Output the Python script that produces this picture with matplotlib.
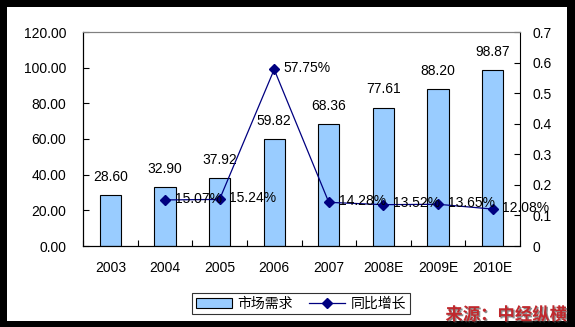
import numpy as np
import matplotlib
matplotlib.use('Agg')
import matplotlib.pyplot as plt
from matplotlib.patches import Rectangle
import matplotlib.patheffects as pe

plt.rcParams['font.family'] = ['Liberation Sans', 'Noto Sans CJK SC', 'DejaVu Sans']

# market demand and yoy growth
years = ['2003', '2004', '2005', '2006', '2007', '2008E', '2009E', '2010E']
demand = [28.60, 32.90, 37.92, 59.82, 68.36, 77.61, 88.20, 98.87]
growth_years = years[1:]
growth = [0.1507, 0.1524, 0.5775, 0.1428, 0.1352, 0.1365, 0.1208]

W, H = 575, 327
fig = plt.figure(figsize=(W/100, H/100), dpi=100, facecolor='black')
fig.patches.append(Rectangle((7/W, 6/H), 560/W, 314/H, transform=fig.transFigure,
                             facecolor='white', edgecolor='none', zorder=-5))

ax = fig.add_axes([83/W, (H-246)/H, (520-83)/W, (246-32)/H])
ax.set_facecolor('white')
x = np.arange(len(years))
bars = ax.bar(x, demand, width=0.39, color='#99CCFF', edgecolor='black', linewidth=0.8, label='市场需求')
ax.set_xlim(-0.5, len(years)-0.5)
ax.set_ylim(0, 120)
ax.set_yticks(np.arange(0, 121, 20))
ax.set_yticklabels(['%.2f' % v for v in np.arange(0, 121, 20)], fontsize=10)
ax.set_xticks(x)
ax.set_xticklabels(years, fontsize=10)
ax.set_xticks(np.arange(-0.5, len(years), 1), minor=True)
ax.tick_params(axis='x', which='major', length=0, pad=11)
ax.tick_params(axis='x', which='minor', direction='in', length=4, width=0.8)
ax.tick_params(axis='y', direction='in', length=4, width=0.8, pad=12)
ax.spines['top'].set_color('#808080')
ax.spines['right'].set_visible(False)
for v, xi in zip(demand, x):
    ax.annotate('%.2f' % v, (xi, v), xytext=(0, 8), textcoords='offset points',
                ha='center', va='bottom', fontsize=10)

ax2 = ax.twinx()
gx = x[1:]
line, = ax2.plot(gx, growth, color='#000080', linewidth=0.9, marker='D', markersize=5, label='同比增长')
ax2.set_ylim(0, 0.7)
ax2.set_yticks(np.arange(0, 0.71, 0.1))
ax2.set_yticklabels(['0', '0.1', '0.2', '0.3', '0.4', '0.5', '0.6', '0.7'], fontsize=10)
ax2.tick_params(axis='y', direction='in', length=4, width=0.8, pad=9)
ax2.spines['top'].set_color('#808080')
ax2.spines['right'].set_color('black')
for v, xi in zip(growth, gx):
    ax2.annotate('%.2f%%' % (v*100), (xi, v), xytext=(7, 1), textcoords='offset points',
                 ha='left', va='center', fontsize=10)

leg = fig.legend([bars, line], ['市场需求', '同比增长'], loc='center', ncol=2,
                 bbox_to_anchor=(301/W, 1-303.5/H), frameon=True, fancybox=False,
                 edgecolor='black', handlelength=2.6, columnspacing=1.2,
                 borderpad=0.25, handletextpad=0.4,
                 prop={'family': ['Noto Sans CJK SC', 'DejaVu Sans'], 'size': 10})
leg.get_frame().set_linewidth(0.8)

fig.text(567/W, 1-315/H, '来源：中经纵横', ha='right', va='center', fontsize=12.5,
         fontweight='bold', color='#C0282D', family=['Noto Sans CJK SC', 'DejaVu Sans'],
         path_effects=[pe.withSimplePatchShadow(offset=(1, -1), shadow_rgbFace='#404040', alpha=0.6)])

fig.savefig('out.png', dpi=100, facecolor=fig.get_facecolor())
